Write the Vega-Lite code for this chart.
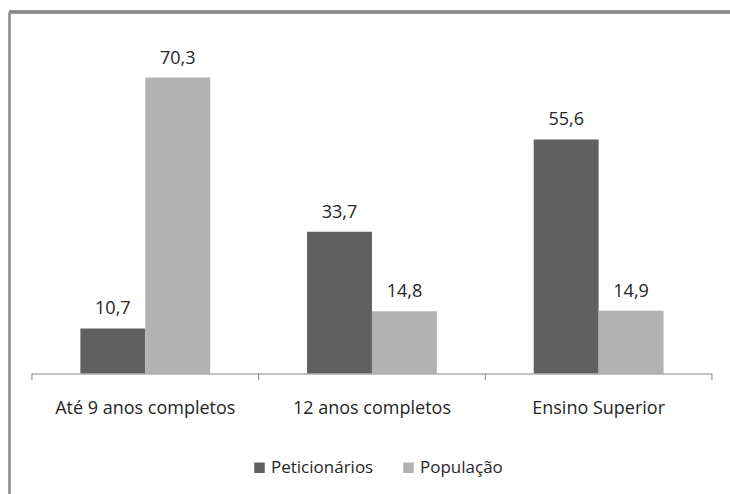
{
  "$schema": "https://vega.github.io/schema/vega-lite/v6.json",
  "width": 721,
  "height": 482,
  "autosize": {"type": "none"},
  "padding": {"left": 9, "top": 12, "right": 0, "bottom": 0},
  "background": "white",
  "config": {
    "view": {"stroke": null},
    "font": "Open Sans",
    "locale": {"number": {"decimal": ",", "thousands": ".", "grouping": [3], "currency": ["", " €"]}}
  },
  "data": {
    "values": [
      {"categoria": "Até 9 anos completos", "serie": "Peticionários", "valor": 10.7},
      {"categoria": "Até 9 anos completos", "serie": "População", "valor": 70.3},
      {"categoria": "12 anos completos", "serie": "Peticionários", "valor": 33.7},
      {"categoria": "12 anos completos", "serie": "População", "valor": 14.8},
      {"categoria": "Ensino Superior", "serie": "Peticionários", "valor": 55.6},
      {"categoria": "Ensino Superior", "serie": "População", "valor": 14.9}
    ]
  },
  "layer": [
    {
      "mark": {"type": "bar"},
      "encoding": {
        "x": {
          "field": "categoria", "type": "nominal",
          "sort": ["Até 9 anos completos", "12 anos completos", "Ensino Superior"],
          "scale": {"paddingInner": 0, "paddingOuter": 0.0904, "align": 0.56},
          "axis": {"orient": "bottom", "offset": -120.5, "domain": false, "ticks": false, "tickSize": 0, "grid": false, "title": null, "labelAngle": 0, "labelFont": "Open Sans", "labelFontSize": 18, "labelColor": "#262626", "labelPadding": 26, "labelLimit": 400}
        },
        "xOffset": {
          "field": "serie", "type": "nominal",
          "sort": ["Peticionários", "População"],
          "scale": {"paddingInner": 0, "paddingOuter": 0.746}
        },
        "y": {
          "field": "valor", "type": "quantitative",
          "scale": {"domain": [-28.62, 85.87], "nice": false, "zero": false},
          "axis": {"orient": "left", "domain": true, "domainColor": "#878787", "domainWidth": 2.5, "ticks": false, "labels": false, "grid": false, "title": null}
        },
        "y2": {"datum": 0},
        "color": {
          "field": "serie", "type": "nominal",
          "scale": {"domain": ["Peticionários", "População"], "range": ["#606060", "#b2b2b2"]},
          "legend": {"title": null, "orient": "none", "legendX": 242, "legendY": 447, "direction": "horizontal", "symbolType": "square", "symbolSize": 110, "symbolStrokeWidth": 0, "labelFont": "Open Sans", "labelFontSize": 17, "labelColor": "#262626", "labelOffset": 3, "columnPadding": 26, "padding": 0}
        }
      }
    },
    {
      "mark": {"type": "text", "baseline": "alphabetic", "dy": -14, "fontSize": 18, "font": "Open Sans", "color": "#262626"},
      "encoding": {
        "x": {"field": "categoria", "type": "nominal", "sort": ["Até 9 anos completos", "12 anos completos", "Ensino Superior"],
          "axis": {"orient": "bottom", "offset": -120.5, "domain": false, "ticks": false, "tickSize": 0, "grid": false, "title": null, "labelAngle": 0, "labelFont": "Open Sans", "labelFontSize": 18, "labelColor": "#262626", "labelPadding": 26, "labelLimit": 400}},
        "xOffset": {"field": "serie", "type": "nominal", "sort": ["Peticionários", "População"]},
        "y": {"field": "valor", "type": "quantitative",
          "axis": {"orient": "left", "domain": true, "domainColor": "#878787", "domainWidth": 2.5, "ticks": false, "labels": false, "grid": false, "title": null}},
        "text": {"field": "valor", "type": "quantitative", "format": ".1f"}
      }
    },
    {
      "mark": {"type": "rule", "color": "#878787", "strokeWidth": 2.5},
      "encoding": {
        "y": {"datum": 85.87, "type": "quantitative",
          "axis": {"orient": "left", "domain": true, "domainColor": "#878787", "domainWidth": 2.5, "ticks": false, "labels": false, "grid": false, "title": null}}
      }
    },
    {
      "transform": [{"filter": "datum.serie === 'Peticionários'"}],
      "mark": {"type": "bar", "color": "#868686"},
      "encoding": {
        "x": {"field": "categoria", "type": "nominal", "sort": ["Até 9 anos completos", "12 anos completos", "Ensino Superior"],
          "axis": {"orient": "bottom", "offset": -120.5, "domain": false, "ticks": false, "tickSize": 0, "grid": false, "title": null, "labelAngle": 0, "labelFont": "Open Sans", "labelFontSize": 18, "labelColor": "#262626", "labelPadding": 26, "labelLimit": 400}},
        "y": {"datum": 0, "type": "quantitative",
          "axis": {"orient": "left", "domain": true, "domainColor": "#878787", "domainWidth": 2.5, "ticks": false, "labels": false, "grid": false, "title": null}},
        "y2": {"datum": -0.24}
      }
    },
    {
      "transform": [{"filter": "datum.serie === 'Peticionários'"}],
      "mark": {"type": "rule", "color": "#868686", "strokeWidth": 1},
      "encoding": {
        "x": {"field": "categoria", "type": "nominal", "bandPosition": 0, "sort": ["Até 9 anos completos", "12 anos completos", "Ensino Superior"],
          "axis": {"orient": "bottom", "offset": -120.5, "domain": false, "ticks": false, "tickSize": 0, "grid": false, "title": null, "labelAngle": 0, "labelFont": "Open Sans", "labelFontSize": 18, "labelColor": "#262626", "labelPadding": 26, "labelLimit": 400}},
        "y": {"datum": 0, "type": "quantitative",
          "axis": {"orient": "left", "domain": true, "domainColor": "#878787", "domainWidth": 2.5, "ticks": false, "labels": false, "grid": false, "title": null}},
        "y2": {"datum": -1.6}
      }
    },
    {
      "transform": [{"filter": "datum.serie === 'Peticionários' && datum.categoria === 'Ensino Superior'"}],
      "mark": {"type": "rule", "color": "#868686", "strokeWidth": 1},
      "encoding": {
        "x": {"field": "categoria", "type": "nominal", "bandPosition": 1, "sort": ["Até 9 anos completos", "12 anos completos", "Ensino Superior"],
          "axis": {"orient": "bottom", "offset": -120.5, "domain": false, "ticks": false, "tickSize": 0, "grid": false, "title": null, "labelAngle": 0, "labelFont": "Open Sans", "labelFontSize": 18, "labelColor": "#262626", "labelPadding": 26, "labelLimit": 400}},
        "y": {"datum": 0, "type": "quantitative",
          "axis": {"orient": "left", "domain": true, "domainColor": "#878787", "domainWidth": 2.5, "ticks": false, "labels": false, "grid": false, "title": null}},
        "y2": {"datum": -1.6}
      }
    }
  ]
}
